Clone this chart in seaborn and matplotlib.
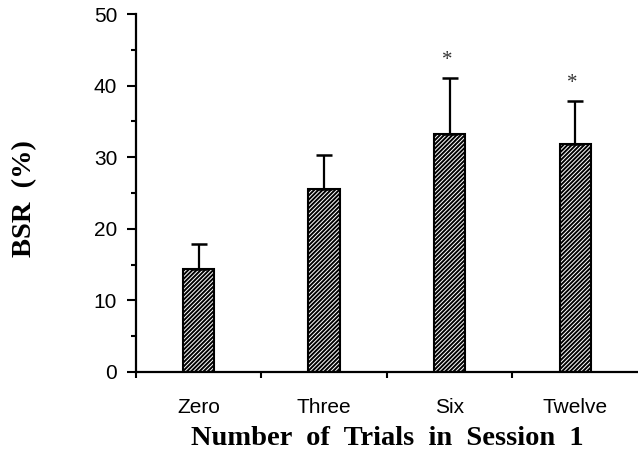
import matplotlib
matplotlib.use("Agg")
import matplotlib.pyplot as plt
import seaborn as sns
import pandas as pd
import numpy as np

categories = ["Zero", "Three", "Six", "Twelve"]
bsr_mean = [14.4, 25.5, 33.2, 31.9]
bsr_sem = [3.5, 4.8, 7.8, 5.9]
significant = [False, False, True, True]
y_ticks = [0, 10, 20, 30, 40, 50]

sns.set_style("ticks")
plt.rcParams["hatch.linewidth"] = 1.4
plt.rcParams["font.family"] = ["Liberation Sans", "DejaVu Sans"]
plt.rcParams["text.color"] = "black"
plt.rcParams["xtick.color"] = "black"
plt.rcParams["ytick.color"] = "black"
plt.rcParams["axes.labelcolor"] = "black"
plt.rcParams["axes.edgecolor"] = "black"

df = pd.DataFrame({"trials": categories, "bsr": bsr_mean})

fig = plt.figure(figsize=(6.38, 4.53), dpi=100)
ax = fig.add_axes([0.213, 0.179, 0.787, 0.790])

sns.barplot(data=df, x="trials", y="bsr", order=categories, color="white",
            edgecolor="black", linewidth=1.5, width=0.25, errorbar=None, ax=ax)
for p in ax.patches:
    p.set_hatch("////////")
    p.set_facecolor("white")
    p.set_edgecolor("black")

xpos = np.arange(len(categories))
ax.errorbar(xpos, bsr_mean, yerr=[np.zeros(len(bsr_sem)), bsr_sem], fmt="none",
            ecolor="black", elinewidth=1.6, capsize=5.8, capthick=1.8, zorder=1)

for x, m, s, sig in zip(xpos, bsr_mean, bsr_sem, significant):
    if sig:
        ax.text(x - 0.02, m + s + 2.5, "*", ha="center", va="center",
                fontsize=15, family="Liberation Serif", color="#333333")

ax.set_xlim(-0.5, 3.5)
ax.set_ylim(0, 50)
ax.set_yticks(y_ticks)
ax.set_yticks(np.arange(5, 50, 10), minor=True)
ax.set_xticks(xpos)
ax.set_xticklabels(categories, fontsize=15)
ax.set_xticks([-0.5, 0.5, 1.5, 2.5], minor=True)
ax.tick_params(axis="x", which="major", length=0, pad=19)
ax.tick_params(axis="x", which="minor", length=4, width=1.5, direction="out")
ax.tick_params(axis="y", which="major", length=6.5, width=1.5, labelsize=15, pad=7)
ax.tick_params(axis="y", which="minor", length=3.6, width=1.5)

for side in ["top", "right"]:
    ax.spines[side].set_visible(False)
for side in ["left", "bottom"]:
    ax.spines[side].set_linewidth(1.6)

ax.set_xlabel("Number  of  Trials  in  Session  1", family="Liberation Serif",
              fontweight="bold", fontsize=20.5, labelpad=6)
ax.set_ylabel("BSR  (%)", family="Liberation Serif", fontweight="bold",
              fontsize=20.5)
ax.yaxis.set_label_coords(-0.197, 0.483)

fig.savefig("out.png", dpi=100)
